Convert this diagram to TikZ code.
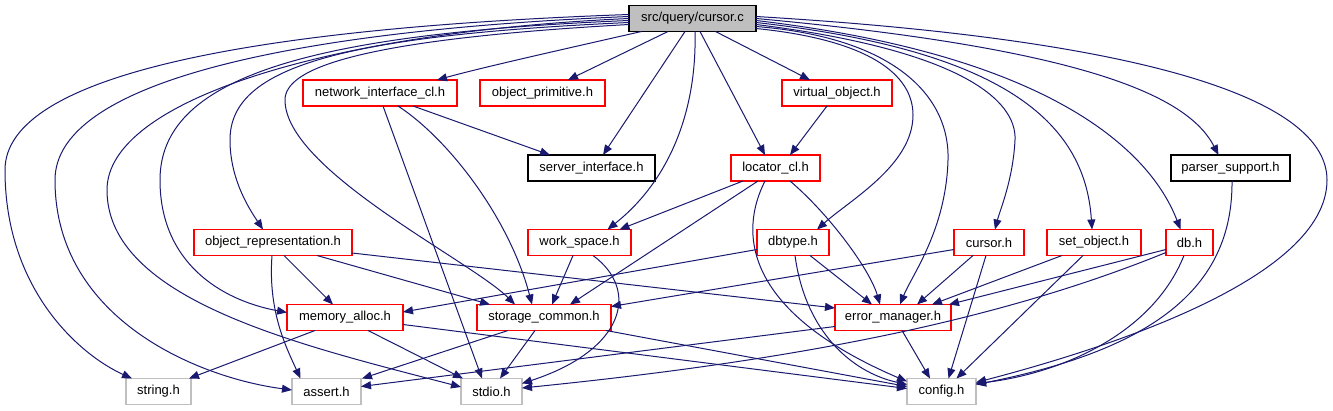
\documentclass[tikz,border=0pt]{standalone}
\usepackage{fontspec}
\setmainfont{Liberation Sans}
\usetikzlibrary{arrows.meta}
\definecolor{edgeblue}{HTML}{191970}
\definecolor{leafgrey}{HTML}{BFBFBF}
\definecolor{boxred}{HTML}{FF0000}
\begin{document}
\begin{tikzpicture}[x=1pt,y=-1pt,
  box/.style={draw, rectangle, minimum height=26pt, inner sep=0pt, outer sep=0pt,
    font=\fontsize{13}{15}\selectfont, line width=1.3pt},
  redbox/.style={box, draw=boxred},
  blackbox/.style={box, draw=black},
  greybox/.style={box, draw=leafgrey},
  rootbox/.style={box, draw=black, fill=leafgrey},
  dep/.style={draw=edgeblue, line width=1pt, -{Triangle[length=10pt,width=8pt]}}]
\useasboundingbox[fill=white] (0,0) rectangle (1333,411);

\node[rootbox, minimum width=127pt] (root) at (692.5,18.5) {src/query/cursor.c};
\node[redbox, minimum width=154pt] (netif) at (380,93) {network\_interface\_cl.h};
\node[redbox, minimum width=125pt] (objprim) at (542.5,93) {object\_primitive.h};
\node[redbox, minimum width=110pt] (virtobj) at (837,93) {virtual\_object.h};
\node[blackbox, minimum width=127pt] (servif) at (591.5,168) {server\_interface.h};
\node[redbox, minimum width=89pt] (locator) at (775.5,168) {locator\_cl.h};
\node[blackbox, minimum width=119pt] (parser) at (1230.5,168) {parser\_support.h};
\node[redbox, minimum width=158pt] (objrep) at (273,242.5) {object\_representation.h};
\node[redbox, minimum width=103pt] (ws) at (579.5,242.5) {work\_space.h};
\node[redbox, minimum width=72pt] (dbtype) at (793,242.5) {dbtype.h};
\node[redbox, minimum width=70pt] (cursorh) at (989,242.5) {cursor.h};
\node[redbox, minimum width=94pt] (setobj) at (1094,242.5) {set\_object.h};
\node[redbox, minimum width=47pt] (dbh) at (1189.5,242.5) {db.h};
\node[redbox, minimum width=116pt] (memalloc) at (345,317.5) {memory\_alloc.h};
\node[redbox, minimum width=134pt] (storage) at (544,317.5) {storage\_common.h};
\node[redbox, minimum width=116pt] (errmgr) at (893,317.5) {error\_manager.h};
\node[greybox, minimum width=65pt] (string) at (158.5,391.5) {string.h};
\node[greybox, minimum width=69pt] (assert) at (326.5,391.5) {assert.h};
\node[greybox, minimum width=61pt] (stdio) at (491.5,391.5) {stdio.h};
\node[greybox, minimum width=69pt] (config) at (941.5,391.5) {config.h};

% root, left side
\draw[dep] ([yshift=4pt]root.west) .. controls (250,28) and (5,75) .. (5,170) .. controls (5,290) and (80,355) .. ([xshift=6pt]string.north west);
\draw[dep] ([yshift=2pt]root.west) .. controls (300,30) and (55,80) .. (55,180) .. controls (55,320) and (200,378) .. ([yshift=1.5pt]assert.west);
\draw[dep] (root.west) .. controls (330,32) and (107,100) .. (107,190) .. controls (107,300) and (300,345) .. ([yshift=4.5pt]stdio.west);
\draw[dep] ([yshift=-2pt]root.west) .. controls (300,34) and (160,80) .. (160,180) .. controls (160,262) and (220,300) .. ([yshift=5pt]memalloc.west);
\draw[dep] ([yshift=-4pt]root.west) .. controls (330,36) and (230,70) .. (230,140) .. controls (230,180) and (250,210) .. ([xshift=-10pt]objrep.north);
\draw[dep] ([yshift=-6pt]root.west) .. controls (350,40) and (285,70) .. (285,100) .. controls (285,170) and (470,260) .. ([xshift=-29pt]storage.north);
% root, bottom
\draw[dep] ([xshift=-51pt]root.south) .. controls (560,50) and (480,68) .. ([xshift=57pt]netif.north);
\draw[dep] ([xshift=-24.5pt]root.south) -- ([xshift=25.5pt]objprim.north);
\draw[dep] ([xshift=-7.5pt]root.south) -- ([xshift=11.5pt]servif.north);
\draw[dep] ([xshift=2.5pt]root.south) .. controls (697,110) and (670,180) .. ([xshift=28pt]ws.north);
\draw[dep] ([xshift=7.5pt]root.south) -- ([xshift=-10.5pt]locator.north);
\draw[dep] ([xshift=23pt]root.south) -- ([xshift=-27pt]virtobj.north);
% root, right side
\draw[dep] ([yshift=-10pt]root.east) .. controls (870,40) and (913,75) .. (913,115) .. controls (913,165) and (850,200) .. ([xshift=24pt]dbtype.north);
\draw[dep] ([yshift=-8pt]root.east) .. controls (900,38) and (950,100) .. (948,160) .. controls (946,230) and (912,275) .. ([xshift=7pt]errmgr.north);
\draw[dep] ([yshift=-6pt]root.east) .. controls (960,50) and (1017,100) .. (1015,140) .. controls (1013,180) and (1000,210) .. ([xshift=6pt]cursorh.north);
\draw[dep] ([yshift=-4pt]root.east) .. controls (1000,50) and (1085,120) .. ([xshift=-2pt]setobj.north);
\draw[dep] ([yshift=-2pt]root.east) .. controls (1050,55) and (1150,150) .. ([xshift=-9pt]dbh.north);
\draw[dep] (root.east) .. controls (1100,50) and (1190,100) .. ([xshift=-12pt]parser.north);
\draw[dep] ([yshift=2pt]root.east) .. controls (1150,40) and (1327,100) .. (1327,180) .. controls (1327,280) and (1100,350) .. ([yshift=9pt]config.east);

% second level
\draw[dep] ([xshift=-10pt]virtobj.south) -- ([xshift=14.5pt]locator.north);
\draw[dep] ([xshift=33pt]netif.south) -- ([xshift=-41.5pt]servif.north);
\draw[dep] ([xshift=3pt]netif.south) -- ([xshift=-9.5pt]stdio.north);
\draw[dep] ([xshift=18pt]netif.south) .. controls (450,140) and (510,220) .. ([xshift=-12pt]storage.north);
\draw[dep] ([xshift=-32.5pt]locator.south) -- ([xshift=40pt]ws.north);
\draw[dep] ([xshift=-17.5pt]locator.south) -- ([xshift=26pt]storage.north);
\draw[dep] ([xshift=-10.5pt]locator.south) .. controls (740,230) and (740,310) .. ([yshift=10pt]config.west);
\draw[dep] ([xshift=14.5pt]locator.south) .. controls (830,215) and (870,270) .. ([xshift=-13pt]errmgr.north);
\draw[dep] ([yshift=-7pt]dbtype.west) -- ([yshift=5.5pt]memalloc.east);
\draw[dep] ([xshift=17pt]dbtype.south) -- ([xshift=-21pt]errmgr.north);
\draw[dep] ([xshift=2pt]dbtype.south) .. controls (805,330) and (850,372) .. ([yshift=7pt]config.west);
\draw[dep] ([yshift=-7pt]cursorh.west) -- ([yshift=11pt]storage.east);
\draw[dep] ([xshift=-16pt]cursorh.south) -- ([xshift=24pt]errmgr.north);
\draw[dep] ([xshift=-3pt]cursorh.south) -- ([xshift=7pt]config.north);
\draw[dep] ([xshift=-32pt]setobj.south) -- ([xshift=39pt]errmgr.north);
\draw[dep] ([xshift=-11pt]setobj.south) -- ([xshift=15pt]config.north);
\draw[dep] ([yshift=-7pt]dbh.west) -- ([xshift=-2pt]errmgr.north east);
\draw[dep] ([yshift=-10pt]dbh.west) .. controls (1000,320) and (800,360) .. ([yshift=3.5pt]stdio.east);
\draw[dep] ([xshift=-5.5pt]dbh.south) .. controls (1150,340) and (1050,375) .. ([yshift=8pt]config.east);
\draw[dep] ([xshift=1.5pt]parser.south) .. controls (1233,290) and (1150,350) .. ([yshift=7pt]config.east);
\draw[dep] ([xshift=-6.5pt]ws.south) -- ([xshift=8pt]storage.north);
\draw[dep] ([xshift=13.5pt]ws.south) .. controls (640,290) and (625,350) .. ([yshift=8pt]stdio.east);
\draw[dep] ([xshift=-1pt]objrep.south) .. controls (268,310) and (285,345) .. ([xshift=-26pt]assert.north);
\draw[dep] ([xshift=11pt]objrep.south) -- ([xshift=-12pt]memalloc.north);
\draw[dep] ([xshift=44pt]objrep.south) -- ([xshift=-54pt]storage.north);
\draw[dep] ([yshift=-10.5pt]objrep.east) -- ([yshift=9.5pt]errmgr.west);
\draw[dep] ([xshift=-30pt]memalloc.south) -- ([xshift=-2pt]string.north east);
\draw[dep] ([xshift=23pt]memalloc.south) -- ([xshift=2pt]stdio.north west);
\draw[dep] ([yshift=-7pt]memalloc.east) -- ([yshift=3pt]config.west);
\draw[dep] ([xshift=-36pt]storage.south) -- ([xshift=1pt]assert.north east);
\draw[dep] ([xshift=-9pt]storage.south) -- ([xshift=8.5pt]stdio.north);
\draw[dep] ([xshift=-5pt]storage.south east) -- ([yshift=5pt]config.west);
\draw[dep] ([yshift=-9pt]errmgr.west) -- ([yshift=5pt]assert.east);
\draw[dep] ([xshift=9pt]errmgr.south) -- ([xshift=-11.5pt]config.north);
\end{tikzpicture}
\end{document}
